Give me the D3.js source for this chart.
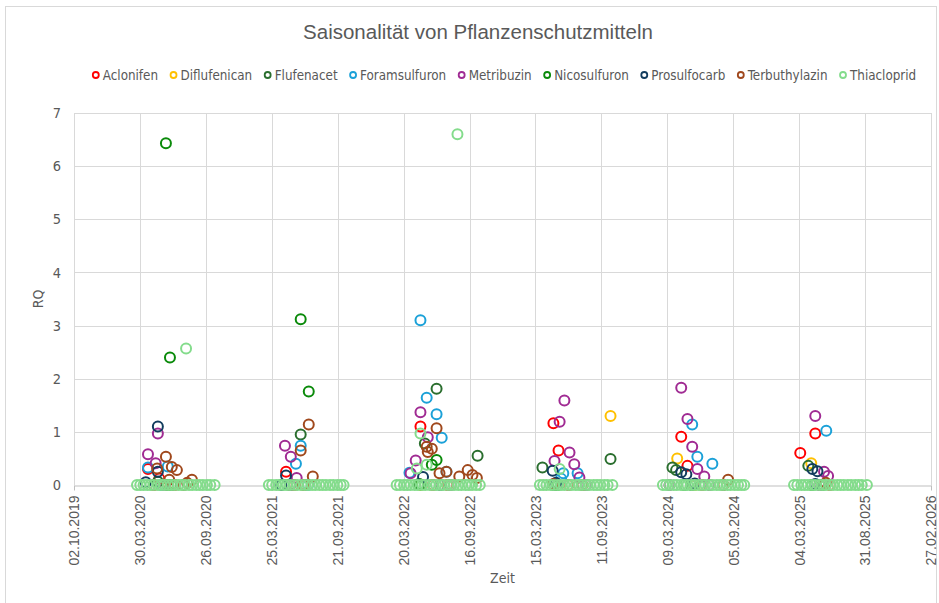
<!DOCTYPE html>
<html>
<head>
<meta charset="utf-8">
<script src="https://cdn.jsdelivr.net/npm/d3@7"></script>
<style>
  body { margin: 0; background: #fff; }
  svg text { fill: #595959; }
</style>
</head>
<body>
<svg width="939" height="603"></svg>
<script>
// Chart text
const chartTitle = "Saisonalität von Pflanzenschutzmitteln";
const xTitle = "Zeit";
const yTitle = "RQ";

// Axis ticks
const xTickLabels = ["2019-10-02", "2020-03-30", "2020-09-26", "2021-03-25", "2021-09-21", "2022-03-20",
  "2022-09-16", "2023-03-15", "2023-09-11", "2024-03-09", "2024-09-05", "2025-03-04", "2025-08-31", "2026-02-27"];
const yTicks = [0, 1, 2, 3, 4, 5, 6, 7];

// Series
const seriesNames = ["Aclonifen", "Diflufenican", "Flufenacet", "Foramsulfuron", "Metribuzin",
  "Nicosulfuron", "Prosulfocarb", "Terbuthylazin", "Thiacloprid"];
const seriesColors = ["#ff0000", "#ffc000", "#2a6e2e", "#1ba1d8", "#a02b93",
  "#0a8a0a", "#123c5e", "#a0481c", "#84dc8c"];

const aclonifen = [
  ["2020-04-21", 0.30], ["2020-05-22", 0.12], ["2020-05-07", 0], ["2020-07-03", 0],
  ["2021-05-03", 0.25], ["2021-05-25", 0], ["2021-06-23", 0],
  ["2022-05-05", 1.10], ["2022-06-08", 0], ["2022-07-18", 0],
  ["2023-05-03", 1.16], ["2023-05-17", 0.65], ["2023-06-13", 0],
  ["2024-04-16", 0.91], ["2024-05-03", 0.36], ["2024-06-12", 0],
  ["2025-03-07", 0.60], ["2025-04-17", 0.97], ["2025-05-27", 0]
];
const diflufenican = [
  ["2020-06-15", 0], ["2022-05-05", 0], ["2023-10-06", 1.30],
  ["2024-04-05", 0.50], ["2024-05-23", 0], ["2025-04-06", 0.41]
];
const flufenacet = [
  ["2020-05-18", 0.06], ["2020-06-24", 0],
  ["2021-05-14", 0], ["2021-06-12", 0.95],
  ["2022-05-01", 0.02], ["2022-05-17", 0.78], ["2022-06-18", 1.81], ["2022-10-08", 0.55],
  ["2023-04-03", 0.33], ["2023-05-04", 0], ["2023-10-06", 0.49],
  ["2024-03-23", 0.33], ["2024-04-02", 0.28], ["2024-05-14", 0],
  ["2025-03-29", 0.36], ["2025-05-07", 0]
];
const foramsulfuron = [
  ["2020-04-21", 0.33], ["2020-05-27", 0], ["2020-06-14", 0.35],
  ["2021-05-30", 0.40], ["2021-06-12", 0.74], ["2021-07-02", 0],
  ["2022-04-05", 0.23], ["2022-05-05", 3.10], ["2022-05-22", 1.64], ["2022-06-18", 1.33],
  ["2022-07-02", 0.89], ["2022-07-15", 0.25],
  ["2023-05-24", 0.12], ["2023-05-30", 0.22], ["2023-07-08", 0.22],
  ["2024-05-16", 1.14], ["2024-05-30", 0.53], ["2024-07-10", 0.40],
  ["2025-05-17", 1.02]
];
const metribuzin = [
  ["2020-04-21", 0.58], ["2020-05-12", 0.41], ["2020-05-18", 0.97], ["2020-06-05", 0],
  ["2021-04-30", 0.74], ["2021-05-14", 0], ["2021-05-16", 0.53], ["2021-06-01", 0.13],
  ["2022-04-08", 0.22], ["2022-04-22", 0.46], ["2022-05-05", 1.37], ["2022-05-25", 0.90], ["2022-07-27", 0],
  ["2023-05-06", 0.45], ["2023-05-20", 1.19], ["2023-06-02", 1.59], ["2023-06-16", 0.61],
  ["2023-06-29", 0.39], ["2023-07-13", 0.14], ["2023-08-01", 0],
  ["2024-03-15", 0], ["2024-04-16", 1.83], ["2024-05-03", 1.24], ["2024-05-16", 0.72],
  ["2024-05-30", 0.30], ["2024-06-18", 0.16], ["2024-07-02", 0],
  ["2025-04-17", 1.30], ["2025-04-28", 0], ["2025-05-11", 0.25], ["2025-05-22", 0.17]
];
const nicosulfuron = [
  ["2020-06-09", 6.43], ["2020-06-15", 0], ["2020-06-20", 2.40],
  ["2021-06-12", 3.12], ["2021-07-04", 1.76],
  ["2022-05-05", 0.01], ["2022-06-05", 0.38], ["2022-06-18", 0.47],
  ["2023-05-15", 0], ["2024-04-24", 0], ["2025-04-08", 0]
];
const prosulfocarb = [
  ["2020-04-15", 0.05], ["2020-05-18", 1.10], ["2020-05-18", 0.25],
  ["2021-04-20", 0], ["2021-05-03", 0.18],
  ["2022-05-12", 0.15], ["2022-06-28", 0],
  ["2023-05-01", 0.27], ["2023-05-10", 0.04],
  ["2024-04-16", 0.24], ["2024-04-30", 0.20], ["2024-05-23", 0.03],
  ["2025-04-09", 0.30], ["2025-04-17", 0.02], ["2025-04-23", 0.26]
];
const terbuthylazin = [
  ["2020-05-16", 0.31], ["2020-06-09", 0.53], ["2020-06-18", 0.10], ["2020-06-25", 0.34],
  ["2020-07-09", 0.28], ["2020-07-28", 0], ["2020-08-06", 0.04], ["2020-08-19", 0.10],
  ["2021-06-12", 0.65], ["2021-06-18", 0], ["2021-07-04", 1.14], ["2021-07-15", 0.16],
  ["2022-05-22", 0.72], ["2022-05-25", 0.62], ["2022-06-05", 0.68], ["2022-06-18", 1.07],
  ["2022-06-26", 0.22], ["2022-07-15", 0.25], ["2022-08-19", 0.16], ["2022-09-11", 0.28],
  ["2022-09-24", 0.19], ["2022-10-06", 0.13],
  ["2023-05-03", 0.02], ["2023-07-21", 0],
  ["2024-08-09", 0], ["2024-08-22", 0.10],
  ["2025-05-16", 0.04]
];
const thiacloprid = [
  ["2020-03-22", 0], ["2020-03-31", 0], ["2020-04-09", 0], ["2020-04-19", 0], ["2020-04-28", 0],
  ["2020-05-07", 0], ["2020-05-18", 0], ["2020-05-27", 0], ["2020-06-05", 0], ["2020-06-15", 0],
  ["2020-06-24", 0], ["2020-07-03", 0], ["2020-07-13", 0], ["2020-07-22", 0], ["2020-07-31", 0],
  ["2020-08-03", 2.57], ["2020-08-11", 0], ["2020-08-20", 0], ["2020-08-31", 0], ["2020-09-09", 0],
  ["2020-09-18", 0], ["2020-09-29", 0], ["2020-10-08", 0], ["2020-10-20", 0],
  ["2021-03-17", 0], ["2021-03-26", 0], ["2021-04-06", 0], ["2021-04-15", 0], ["2021-04-26", 0],
  ["2021-05-05", 0], ["2021-05-14", 0], ["2021-05-25", 0], ["2021-06-03", 0], ["2021-06-14", 0],
  ["2021-06-23", 0], ["2021-07-02", 0], ["2021-07-13", 0], ["2021-07-22", 0], ["2021-08-02", 0],
  ["2021-08-11", 0], ["2021-08-20", 0], ["2021-08-31", 0], ["2021-09-09", 0], ["2021-09-20", 0],
  ["2021-09-29", 0], ["2021-10-07", 0],
  ["2022-03-01", 0], ["2022-03-10", 0], ["2022-03-21", 0], ["2022-03-30", 0], ["2022-04-08", 0],
  ["2022-04-19", 0], ["2022-04-25", 0.31], ["2022-04-28", 0], ["2022-05-05", 0.97], ["2022-05-09", 0],
  ["2022-05-18", 0], ["2022-05-22", 0.38], ["2022-05-30", 0], ["2022-06-08", 0], ["2022-06-17", 0],
  ["2022-06-28", 0], ["2022-07-07", 0], ["2022-07-18", 0], ["2022-07-27", 0], ["2022-08-05", 0],
  ["2022-08-14", 6.60], ["2022-08-16", 0], ["2022-08-25", 0], ["2022-09-05", 0], ["2022-09-14", 0],
  ["2022-09-23", 0], ["2022-10-04", 0], ["2022-10-14", 0],
  ["2023-03-27", 0], ["2023-04-05", 0], ["2023-04-14", 0], ["2023-04-25", 0], ["2023-05-04", 0],
  ["2023-05-15", 0], ["2023-05-20", 0.30], ["2023-05-24", 0], ["2023-06-02", 0], ["2023-06-13", 0],
  ["2023-06-22", 0], ["2023-07-03", 0], ["2023-07-12", 0], ["2023-07-21", 0], ["2023-08-01", 0],
  ["2023-08-10", 0], ["2023-08-21", 0], ["2023-08-30", 0], ["2023-09-08", 0], ["2023-09-19", 0],
  ["2023-09-28", 0], ["2023-10-11", 0],
  ["2024-02-26", 0], ["2024-03-06", 0], ["2024-03-15", 0], ["2024-03-26", 0], ["2024-04-04", 0],
  ["2024-04-15", 0], ["2024-04-24", 0], ["2024-05-03", 0], ["2024-05-14", 0], ["2024-05-23", 0],
  ["2024-06-03", 0], ["2024-06-12", 0], ["2024-06-21", 0], ["2024-07-02", 0], ["2024-07-11", 0],
  ["2024-07-22", 0], ["2024-07-31", 0], ["2024-08-09", 0], ["2024-08-20", 0], ["2024-08-29", 0],
  ["2024-09-09", 0], ["2024-09-18", 0], ["2024-09-27", 0], ["2024-10-05", 0],
  ["2025-02-18", 0], ["2025-02-27", 0], ["2025-03-10", 0], ["2025-03-19", 0], ["2025-03-28", 0],
  ["2025-04-08", 0], ["2025-04-17", 0], ["2025-04-28", 0], ["2025-05-07", 0], ["2025-05-16", 0],
  ["2025-05-27", 0], ["2025-06-05", 0], ["2025-06-16", 0], ["2025-06-25", 0], ["2025-07-04", 0],
  ["2025-07-15", 0], ["2025-07-24", 0], ["2025-08-04", 0], ["2025-08-13", 0], ["2025-08-22", 0],
  ["2025-09-05", 0]
];
const seriesValues = [aclonifen, diflufenican, flufenacet, foramsulfuron, metribuzin,
  nicosulfuron, prosulfocarb, terbuthylazin, thiacloprid];

// Layout
const width = 939, height = 603;
const plot = { left: 74, right: 931, top: 113, bottom: 485 };
const parseDate = d3.utcParse("%Y-%m-%d");
const fmtDate = d3.utcFormat("%d.%m.%Y");
const xTicks = xTickLabels.map(parseDate);

const svg = d3.select("svg");

// Chart area border
svg.append("rect")
  .attr("x", 5.5).attr("y", 6.5)
  .attr("width", 931).attr("height", 610)
  .attr("fill", "none").attr("stroke", "#d9d9d9");

// Scales
const xScale = d3.scaleUtc().domain([xTicks[0], xTicks[xTicks.length - 1]]).range([plot.left, plot.right]);
const yScale = d3.scaleLinear().domain([0, 7]).range([plot.bottom, plot.top]);

// Grid
const grid = svg.append("g").attr("stroke", "#d9d9d9").attr("stroke-width", 1);
grid.selectAll(".hgrid").data(yTicks.filter(d => d > 0)).enter().append("line")
  .attr("x1", plot.left).attr("x2", plot.right)
  .attr("y1", d => Math.round(yScale(d)) + 0.5).attr("y2", d => Math.round(yScale(d)) + 0.5);
grid.selectAll(".vgrid").data(xTicks).enter().append("line")
  .attr("x1", d => Math.round(xScale(d)) + 0.5).attr("x2", d => Math.round(xScale(d)) + 0.5)
  .attr("y1", plot.top).attr("y2", plot.bottom);

// X axis
const xAxis = svg.append("g")
  .attr("transform", `translate(0,${plot.bottom + 0.5})`)
  .call(d3.axisBottom(xScale).tickValues(xTicks).tickFormat(fmtDate).tickSize(5).tickSizeOuter(0));
xAxis.select(".domain").attr("stroke", "#bfbfbf");
xAxis.selectAll(".tick line").attr("stroke", "#bfbfbf");
xAxis.selectAll(".tick text")
  .attr("font-family", "Liberation Sans, Arial, sans-serif")
  .attr("font-size", 14)
  .attr("text-anchor", "end")
  .attr("transform", "rotate(-90)")
  .attr("x", -10).attr("y", 0).attr("dy", "0.35em");

// Y axis
const yAxis = svg.append("g")
  .attr("transform", `translate(${plot.left},0)`)
  .call(d3.axisLeft(yScale).tickValues(yTicks).tickFormat(d3.format("d")).tickSize(0).tickPadding(13));
yAxis.select(".domain").remove();
yAxis.selectAll(".tick text")
  .attr("font-family", "Liberation Sans Narrow, DejaVu Sans Condensed, sans-serif")
  .attr("font-size", 14.5);

// Axis titles
svg.append("text")
  .attr("x", (plot.left + plot.right) / 2).attr("y", 583)
  .attr("text-anchor", "middle")
  .attr("font-family", "Liberation Sans Narrow, DejaVu Sans Condensed, sans-serif")
  .attr("font-size", 14)
  .text(xTitle);
svg.append("text")
  .attr("transform", `translate(43,${(plot.top + plot.bottom) / 2}) rotate(-90)`)
  .attr("text-anchor", "middle")
  .attr("font-family", "Liberation Sans Narrow, DejaVu Sans Condensed, sans-serif")
  .attr("font-size", 14)
  .text(yTitle);

// Title
svg.append("text")
  .attr("x", 478).attr("y", 39)
  .attr("text-anchor", "middle")
  .attr("font-family", "Liberation Sans, Arial, sans-serif")
  .attr("font-size", 20.5)
  .text(chartTitle);

// Markers
seriesValues.forEach((values, i) => {
  svg.append("g").selectAll("circle")
    .data(values)
    .enter().append("circle")
    .attr("cx", d => xScale(parseDate(d[0])))
    .attr("cy", d => yScale(d[1]))
    .attr("r", 5)
    .attr("fill", "none")
    .attr("stroke", seriesColors[i])
    .attr("stroke-width", 2);
});

// Legend
const legend = svg.append("g");
const items = legend.selectAll("g").data(seriesNames).enter().append("g");
items.append("circle")
  .attr("r", 3)
  .attr("fill", "none")
  .attr("stroke", (d, i) => seriesColors[i])
  .attr("stroke-width", 1.8);
items.append("text")
  .attr("x", 7).attr("dy", "0.35em")
  .attr("font-family", "Liberation Sans Narrow, DejaVu Sans Condensed, sans-serif")
  .attr("font-size", 13.3)
  .text(d => d);
const gap = 15.5;
let widths = [];
items.each(function () { widths.push(7 + d3.select(this).select("text").node().getComputedTextLength()); });
const total = d3.sum(widths) + gap * (widths.length - 1) + 4;
let cursor = 504 - total / 2 + 4;
items.attr("transform", (d, i) => {
  const t = `translate(${cursor},75)`;
  cursor += widths[i] + gap;
  return t;
});
</script>
</body>
</html>
